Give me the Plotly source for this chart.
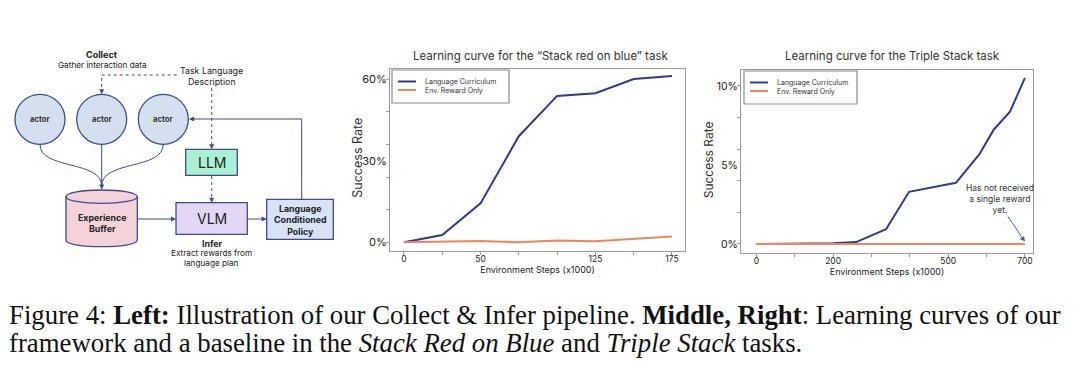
import plotly.graph_objects as go

# ---------------- data ----------------
steps_red_blue = [0, 25, 50, 75, 100, 125, 150, 175]
curriculum_red_blue = [0.0, 2.7, 14.3, 39.0, 53.8, 54.8, 60.0, 61.1]
env_only_red_blue = [0.0, 0.3, 0.5, 0.0, 0.7, 0.4, 1.3, 2.1]

steps_triple = [0, 200, 260, 338, 398, 520, 581, 619, 661, 700]
curriculum_triple = [0.0, 0.05, 0.12, 0.93, 3.3, 3.87, 5.66, 7.24, 8.36, 10.5]
steps_triple_env = [0, 700]
env_only_triple = [0.0, 0.0]

red_blue_xticks = [0, 50, 125, 175]
red_blue_xminor = [0, 25, 50, 75, 100, 125, 150, 175]
red_blue_yticks = [0, 30, 60]
red_blue_ylabels = ["0%", "30%", "60%"]
red_blue_yminor = [0, 12, 24, 36, 48, 60]
triple_xticks = [0, 200, 500, 700]
triple_xminor = [0, 100, 200, 300, 400, 500, 600, 700]
triple_yticks = [0, 5, 10]
triple_ylabels = ["0%", "5%", "10%"]
triple_yminor = [0, 2, 4, 6, 8, 10]

series_names = ["Language Curriculum", "Env. Reward Only"]
title_red_blue = "Learning curve for the \u201cStack red on blue\u201d task"
title_triple = "Learning curve for the Triple Stack task"
x_title = "Environment Steps (x1000)"
y_title = "Success Rate"
note_text = "Has not received<br>a single reward<br>yet."

caption_1 = ("Figure 4: <b>Left:</b> Illustration of our Collect &amp; Infer pipeline. "
             "<b>Middle, Right</b>: Learning curves of our")
caption_2 = ("framework and a baseline in the <i>Stack Red on Blue</i> and "
             "<i>Triple Stack</i> tasks.")

BLUE = "#2e3b8f"
ORANGE = "#f0875a"
NAVY = "#3d4b94"
SANS = "Inter, Lato, sans-serif"
SERIF = "Liberation Serif, Times New Roman, serif"

W, H = 1080, 369

fig = go.Figure()

# ---------------- line charts ----------------
fig.add_trace(go.Scatter(x=steps_red_blue, y=curriculum_red_blue, mode="lines",
                         name=series_names[0], line=dict(color=BLUE, width=2),
                         xaxis="x", yaxis="y"))
fig.add_trace(go.Scatter(x=steps_red_blue, y=env_only_red_blue, mode="lines",
                         name=series_names[1], line=dict(color=ORANGE, width=2),
                         xaxis="x", yaxis="y"))
fig.add_trace(go.Scatter(x=steps_triple, y=curriculum_triple, mode="lines",
                         name=series_names[0], line=dict(color=BLUE, width=2),
                         xaxis="x2", yaxis="y2"))
fig.add_trace(go.Scatter(x=steps_triple_env, y=env_only_triple, mode="lines",
                         name=series_names[1], line=dict(color=ORANGE, width=2),
                         xaxis="x2", yaxis="y2"))


def px_x(p):
    return p / W


def px_y(p):
    return 1 - p / H


axis_common = dict(showgrid=False, zeroline=False, showline=True, linecolor="#9a9a9a",
                   linewidth=1, mirror=True, ticks="", color="#222")

fig.update_layout(
    width=W, height=H, autosize=False,
    margin=dict(l=0, r=0, t=0, b=0),
    paper_bgcolor="white", plot_bgcolor="rgba(0,0,0,0)",
    font=dict(family=SANS, color="#222"),
    showlegend=False,
    xaxis=dict(domain=[px_x(390), px_x(685)], range=[-9.1, 183.5],
               tickvals=red_blue_xticks, tickfont=dict(size=8.5),
               minor=dict(tickvals=red_blue_xminor, ticks="outside", ticklen=3,
                          tickcolor="#9a9a9a"),
               title=dict(text=x_title, font=dict(size=9), standoff=1),
               anchor="y", **axis_common),
    yaxis=dict(domain=[px_y(251), px_y(69)], range=[-3.2, 63.7],
               tickvals=red_blue_yticks, ticktext=red_blue_ylabels, tickfont=dict(size=11),
               minor=dict(tickvals=red_blue_yminor, ticks="outside", ticklen=3,
                          tickcolor="#9a9a9a"),
               anchor="x", **axis_common),
    xaxis2=dict(domain=[px_x(741), px_x(1033)], range=[-40, 721],
                tickvals=triple_xticks, tickfont=dict(size=8.5),
                minor=dict(tickvals=triple_xminor, ticks="outside", ticklen=3,
                           tickcolor="#9a9a9a"),
                title=dict(text=x_title, font=dict(size=9), standoff=1),
                anchor="y2", **axis_common),
    yaxis2=dict(domain=[px_y(253), px_y(70)], range=[-0.57, 11.0],
                tickvals=triple_yticks, ticktext=triple_ylabels, tickfont=dict(size=10.5),
                minor=dict(tickvals=triple_yminor, ticks="outside", ticklen=3,
                           tickcolor="#9a9a9a"),
                anchor="x2", **axis_common),
    xaxis3=dict(domain=[0, 1], range=[0, W], visible=False, fixedrange=True, anchor="y3"),
    yaxis3=dict(domain=[0, 1], range=[H, 0], visible=False, fixedrange=True, anchor="x3"),
)

annotations = []
shapes = []
dref = dict(xref="x3", yref="y3")


def text_px(txt, x, y, size, color="#222", family=None, xanchor="center", angle=0):
    f = dict(size=size, color=color)
    if family:
        f["family"] = family
    annotations.append(dict(text=txt, x=x, y=y, xref="x3", yref="y3", showarrow=False,
                            xanchor=xanchor, yanchor="middle", textangle=angle, font=f))


# chart titles and y titles
text_px(title_red_blue, 540, 56, 11.5, "#333")
text_px(title_triple, 892, 56, 11.5, "#333")
text_px(y_title, 356.7, 158, 12.5, "#333", angle=-90)
text_px(y_title, 708.3, 160, 12, "#333", angle=-90)

# legends (drawn as box + samples + labels)
legend_boxes = [(392, 70, 509, 103), (744, 71, 857, 104)]
legend_colors = [BLUE, ORANGE]
for (lx0, ly0, lx1, ly1) in legend_boxes:
    shapes.append(dict(type="rect", x0=lx0, x1=lx1, y0=ly0, y1=ly1, fillcolor="white",
                       line=dict(color="#8a8a8a", width=1.2), **dref))
    for i, (nm, col) in enumerate(zip(series_names, legend_colors)):
        yy = ly0 + 11.5 + 8.5 * i
        shapes.append(dict(type="line", x0=lx0 + 6, x1=lx0 + 24, y0=yy, y1=yy,
                           line=dict(color=col, width=2), **dref))
        text_px(nm, lx0 + 31, yy, 7, "#333", xanchor="left")

# note on triple-stack chart
annotations.append(dict(text=note_text, x=636, y=2.84, xref="x2", yref="y2",
                        xanchor="center", yanchor="middle",
                        showarrow=False, font=dict(size=8.5, color="#333"), align="center"))
annotations.append(dict(text="", x=700, y=0.15, xref="x2", yref="y2",
                        ax=653, ay=1.83, axref="x2", ayref="y2",
                        showarrow=True, arrowhead=2, arrowsize=1, arrowwidth=1,
                        arrowcolor="#4a5aa8"))

# caption
text_px(caption_1, 7, 315, 26.8, "#111", family=SERIF, xanchor="left")
text_px(caption_2, 7, 343, 26.8, "#111", family=SERIF, xanchor="left")

# ---------------- pipeline diagram (pixel-space axis x3/y3) ----------------
# actors
actor_centers = [40, 101.7, 163.3]
actor_y, actor_r = 119.3, 25
for cx in actor_centers:
    shapes.append(dict(type="circle", x0=cx - actor_r, x1=cx + actor_r,
                       y0=actor_y - actor_r, y1=actor_y + actor_r,
                       fillcolor="#d5e0ee", line=dict(color=NAVY, width=1.3), **dref))
    text_px("<b>actor</b>", cx, actor_y, 7.7, "#333")

# curves actors -> buffer
join_y = 186
shapes.append(dict(type="path", path=f"M 40,144.3 C 40,170 101.7,160 101.7,{join_y}",
                   line=dict(color=NAVY, width=1), **dref))
shapes.append(dict(type="path", path=f"M 163.3,144.3 C 163.3,170 101.7,160 101.7,{join_y}",
                   line=dict(color=NAVY, width=1), **dref))
shapes.append(dict(type="line", x0=101.7, y0=144.3, x1=101.7, y1=join_y,
                   line=dict(color=NAVY, width=1), **dref))


def arrow_px(x, y, ax, ay):
    annotations.append(dict(text="", x=x, y=y, ax=ax, ay=ay, xref="x3", yref="y3",
                            axref="x3", ayref="y3", showarrow=True, arrowhead=2,
                            arrowwidth=1, arrowcolor=NAVY))


arrow_px(101.7, 189.5, 101.7, 183)

# experience buffer cylinder
cl, cr, ctop, cbot, ry = 66, 137.3, 196.7, 240, 6.7
k = ry * 4 / 3
shapes.append(dict(type="path",
                   path=(f"M {cl},{ctop} L {cl},{cbot} C {cl},{cbot + k} {cr},{cbot + k} {cr},{cbot} "
                         f"L {cr},{ctop} Z"),
                   fillcolor="#f4d2da", line=dict(color=NAVY, width=1.3), **dref))
shapes.append(dict(type="circle", x0=cl, x1=cr, y0=ctop - ry, y1=ctop + ry,
                   fillcolor="#f4d2da", line=dict(color=NAVY, width=1.3), **dref))
text_px("<b>Experience<br>Buffer</b>", 101.7, 223, 8.8)

# LLM box
shapes.append(dict(type="rect", x0=185.7, x1=237.3, y0=149.3, y1=175.3,
                   fillcolor="#aaf0d2", line=dict(color=NAVY, width=1.3), **dref))
text_px("LLM", 211.5, 162.5, 14)

# VLM box
shapes.append(dict(type="rect", x0=176, x1=247.3, y0=202.7, y1=234.3,
                   fillcolor="#e2d8f6", line=dict(color=NAVY, width=1.3), **dref))
text_px("VLM", 211.7, 218.5, 14)

# policy box
shapes.append(dict(type="rect", x0=266.7, x1=333.3, y0=199.3, y1=239.3,
                   fillcolor="#d8e3f8", line=dict(color=NAVY, width=1.3), **dref))
text_px("<b>Language<br>Conditioned<br>Policy</b>", 300, 219.5, 8.8)

# dashed task language lines
shapes.append(dict(type="path", path="M 176.7,75 L 101.7,75 L 101.7,89",
                   line=dict(color=NAVY, width=1, dash="dot"), **dref))
shapes.append(dict(type="line", x0=211.7, y0=88, x1=211.7, y1=146,
                   line=dict(color=NAVY, width=1, dash="dot"), **dref))
shapes.append(dict(type="line", x0=211.7, y0=176, x1=211.7, y1=199,
                   line=dict(color=NAVY, width=1, dash="dot"), **dref))
for (xx, y_from, y_to) in [(101.7, 88, 94.3), (211.7, 144, 149.3), (211.7, 197, 202.7)]:
    arrow_px(xx, y_to, xx, y_from)

# solid arrows buffer -> VLM -> policy, policy -> actor
shapes.append(dict(type="line", x0=137.3, y0=219, x1=172, y1=219,
                   line=dict(color=NAVY, width=1), **dref))
arrow_px(176, 219, 170, 219)
shapes.append(dict(type="line", x0=247.3, y0=219, x1=262, y1=219,
                   line=dict(color=NAVY, width=1), **dref))
arrow_px(266.7, 219, 260, 219)
shapes.append(dict(type="path", path="M 301.7,199.3 L 301.7,119 L 194,119",
                   line=dict(color=NAVY, width=1), **dref))
arrow_px(189, 119, 196, 119)

# diagram labels
diagram_labels = [
    ("<b>Collect</b>", 102.3, 54.7, 9),
    ("Gather interaction data", 102.3, 65, 8.2),
    ("Task Language", 211.7, 70.7, 8.8),
    ("Description", 211.7, 81.7, 8.8),
    ("<b>Infer</b>", 211.7, 243.3, 8.8),
    ("Extract rewards from", 211.7, 253.3, 8.2),
    ("language plan", 211.7, 263.3, 8.2),
]
for txt, xx, yy, sz in diagram_labels:
    text_px(txt, xx, yy, sz)

fig.update_layout(shapes=shapes, annotations=annotations)

fig.write_html("out.html", config={"displayModeBar": False},
               post_script="document.body.style.margin='0px';document.body.style.overflow='hidden';")
